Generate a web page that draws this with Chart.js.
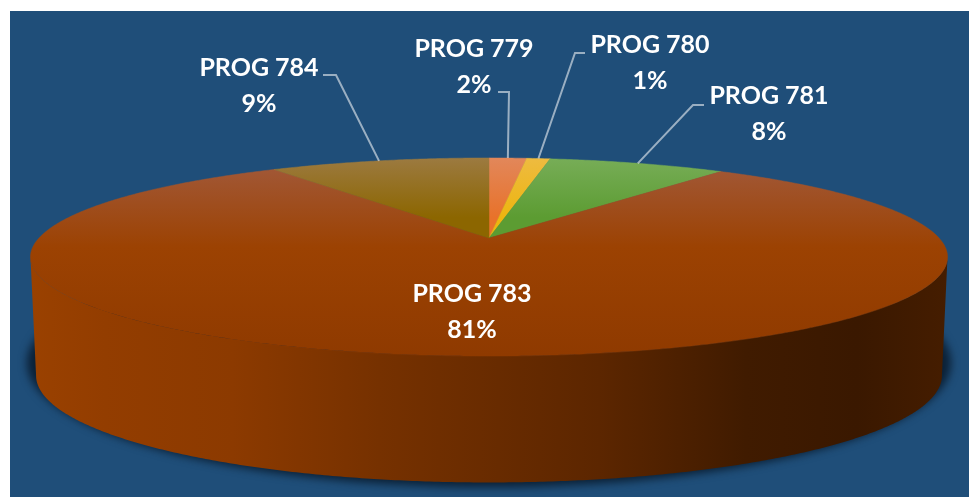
<!DOCTYPE html>
<html>
<head>
<meta charset="utf-8">
<style>html,body{margin:0;padding:0;background:#fff}canvas{display:block}</style>
<script src="https://cdn.jsdelivr.net/npm/chart.js@4"></script>
</head>
<body>
<canvas id="c" width="969" height="497"></canvas>
<script>
const categories = ['PROG 779', 'PROG 780', 'PROG 781', 'PROG 783', 'PROG 784'];
const shares = [1.6, 1.0, 7.6, 81, 9.4];
const sliceColors = ['#e8722a', '#edb510', '#5c9c32', '#9c4202', '#8c6600'];
const sliceRimColors = ['#e2875a', '#eebb40', '#77ad57', '#a25a3c', '#9c7a40'];

const P = 0.192, SX = 450 / 238, SY = 95.4 / 238;
const BASE = { dy: 117, sx: 444.5 / 238, sy: 103 / 238 };
function topPt(arc, a, k) {
  const u = Math.cos(a), v = Math.sin(a), w = 1 - P * v, r = arc.outerRadius;
  k = k || {dy: 0, sx: SX, sy: SY};
  return [arc.x + r * k.sx * u / w, arc.y + k.dy + r * k.sy * v / w];
}
function traceArc(ctx, arc, a0, a1, k, first) {
  const n = Math.max(2, Math.ceil(Math.abs(a1 - a0) / 0.008));
  for (let i = 0; i <= n; i++) {
    const p = topPt(arc, a0 + (a1 - a0) * i / n, k);
    if (i === 0 && first) ctx.moveTo(p[0], p[1]); else ctx.lineTo(p[0], p[1]);
  }
}
const labelBoxes = [
  {x: 474, y: 49, elbow: [[498, 92], [509, 92]]},
  {x: 650, y: 45, elbow: [[585, 53], [575, 53]]},
  {x: 769, y: 96, elbow: [[704, 105], [693, 105]]},
  {x: 472, y: 294, elbow: null},
  {x: 259, y: 68, elbow: [[323, 75], [336, 75]]}
];
const pie3d = {
  id: 'pie3d',
  beforeDraw(chart) {
    const ctx = chart.ctx;
    ctx.save();
    ctx.fillStyle = '#fff';
    ctx.fillRect(0, 0, chart.width, chart.height);
    ctx.fillStyle = '#1f4e79';
    ctx.fillRect(10, 11, chart.width - 10, chart.height - 11);
    ctx.restore();
  },
  beforeDatasetDraw(chart) {
    const ctx = chart.ctx, arcs = chart.getDatasetMeta(0).data, first = arcs[0];
    const side0 = Math.asin(P), side1 = Math.PI - side0;
    // ground shadow
    ctx.save();
    ctx.filter = 'blur(4px)';
    ctx.fillStyle = '#0b2035';
    ctx.beginPath();
    ctx.ellipse(first.x, 363, 462, 124, 0, 0, Math.PI * 2);
    ctx.fill();
    ctx.restore();
    // wall
    arcs.forEach(arc => {
      const a0 = Math.max(arc.startAngle, side0), a1 = Math.min(arc.endAngle, side1);
      if (a1 <= a0) return;
      const g = ctx.createLinearGradient(31, 0, 948, 0);
      g.addColorStop(0, '#9a4100');
      g.addColorStop(0.08, '#933d00');
      g.addColorStop(0.22, '#8c3a00');
      g.addColorStop(0.38, '#763100');
      g.addColorStop(0.62, '#5c2600');
      g.addColorStop(0.78, '#401b00');
      g.addColorStop(0.9, '#3a1800');
      g.addColorStop(1, '#451d00');
      ctx.fillStyle = g;
      ctx.beginPath();
      traceArc(ctx, arc, a0, a1, null, true);
      traceArc(ctx, arc, a1, a0, BASE, false);
      ctx.closePath();
      ctx.fill();
    });
    // top face
    arcs.forEach((arc, i) => {
      const g = ctx.createLinearGradient(0, 158, 0, 356);
      g.addColorStop(0, sliceRimColors[i]);
      if (i === 3) {
        g.addColorStop(0.45, sliceColors[i]);
        g.addColorStop(1, '#8f3a00');
      } else {
        g.addColorStop(0.3, sliceColors[i]);
        g.addColorStop(1, sliceColors[i]);
      }
      ctx.fillStyle = g;
      ctx.strokeStyle = g;
      ctx.lineWidth = 0.5;
      ctx.beginPath();
      ctx.moveTo(arc.x, arc.y);
      traceArc(ctx, arc, arc.startAngle, arc.endAngle, null, false);
      ctx.closePath();
      ctx.fill();
      ctx.stroke();
    });
    return false;
  },
  afterDraw(chart) {
    const ctx = chart.ctx, arcs = chart.getDatasetMeta(0).data;
    ctx.save();
    arcs.forEach((arc, i) => {
      const box = labelBoxes[i];
      if (box.elbow) {
        const end = topPt(arc, (arc.startAngle + arc.endAngle) / 2);
        ctx.strokeStyle = 'rgba(255,255,255,0.55)';
        ctx.lineWidth = 2;
        ctx.beginPath();
        ctx.moveTo(box.elbow[0][0], box.elbow[0][1]);
        ctx.lineTo(box.elbow[1][0], box.elbow[1][1]);
        ctx.lineTo(end[0], end[1]);
        ctx.stroke();
      }
      ctx.fillStyle = '#fff';
      ctx.font = 'bold 25px Lato, "Open Sans", sans-serif';
      ctx.textAlign = 'center';
      ctx.textBaseline = 'middle';
      ctx.fillText(categories[i], box.x, box.y);
      ctx.fillText(Math.round(shares[i]) + '%', box.x, box.y + 36);
    });
    ctx.restore();
  }
};
new Chart(document.getElementById('c'), {
  type: 'pie',
  data: { labels: categories, datasets: [{ data: shares, backgroundColor: sliceColors, borderWidth: 0 }] },
  options: {
    responsive: false,
    animation: false,
    events: [],
    layout: { padding: { left: 9, right: 0, top: 0, bottom: 21 } },
    plugins: { legend: { display: false }, tooltip: { enabled: false } }
  },
  plugins: [pie3d]
});
</script>
</body>
</html>
